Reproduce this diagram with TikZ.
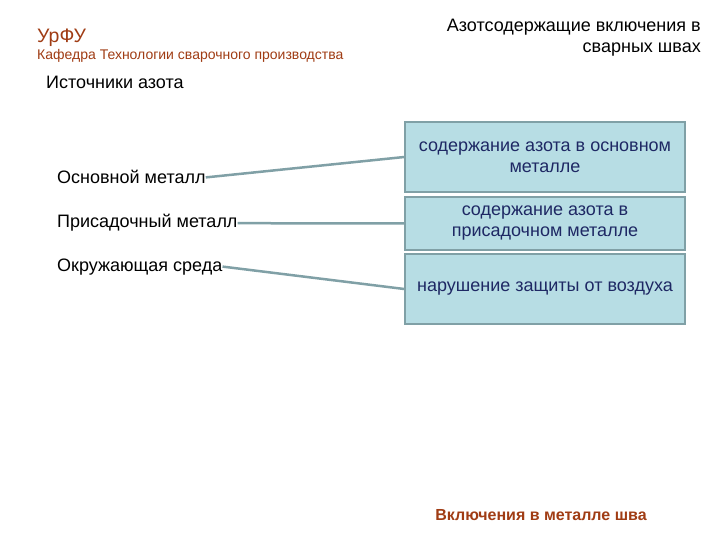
\documentclass[tikz,border=0pt]{standalone}
\usepackage{fontspec}
\setmainfont{Liberation Sans}
\usetikzlibrary{positioning}
\definecolor{brickred}{RGB}{160,60,20}
\definecolor{boxfill}{RGB}{183,221,228}
\definecolor{boxline}{RGB}{128,160,166}
\definecolor{navytext}{RGB}{30,40,100}
\begin{document}
\begin{tikzpicture}[x=1pt, y=-1pt, every node/.style={inner sep=0pt, font=\fontsize{18}{21}\selectfont},
    effect/.style={draw=boxline, line width=1.5pt, fill=boxfill, minimum width=280pt, align=center, text=navytext},
    link/.style={draw=boxline, line width=2.5pt}]
        \useasboundingbox[fill=white] (0,0) rectangle (720,540);

        % Header
        \node[anchor=base west, text=brickred, font=\fontsize{19.5}{22}\selectfont] (urfu) at (37,43) {УрФУ};
        \node[anchor=base west, text=brickred, font=\fontsize{14}{16}\selectfont] (dept) at (37,60) {Кафедра Технологии сварочного производства};
        \node[anchor=north east, align=right] (title) at (701,19) {Азотсодержащие включения в\\сварных швах};
        \node[anchor=base west, font=\fontsize{18}{21}\selectfont] (src) at (46,89) {Источники азота};

        % Sources
        \node[anchor=base west] (base) at (57,184) {Основной металл};
        \node[anchor=base west] (filler) at (57,228) {Присадочный металл};
        \node[anchor=base west] (env) at (57,271) {Окружающая среда};

        % Effects
        \node[effect, minimum height=70pt] (nbase) at (545,157) {содержание азота в основном\\металле};
        \node[effect, minimum height=53pt] (nfiller) at (545,223.5) {содержание азота в\\присадочном металле};
        \node[effect, minimum height=70pt] (nair) at (545,289) {нарушение защиты от воздуха};

        % Links
        \draw[link] (base.east) -- (nbase.west);
        \draw[link] (filler.east) -- (nfiller.west);
        \draw[link] (env.east) -- (nair.west);

        % Footer
        \node[anchor=base, text=brickred, font=\bfseries\fontsize{16}{19}\selectfont] (foot) at (541,520) {Включения в металле шва};
    \end{tikzpicture}
\end{document}
